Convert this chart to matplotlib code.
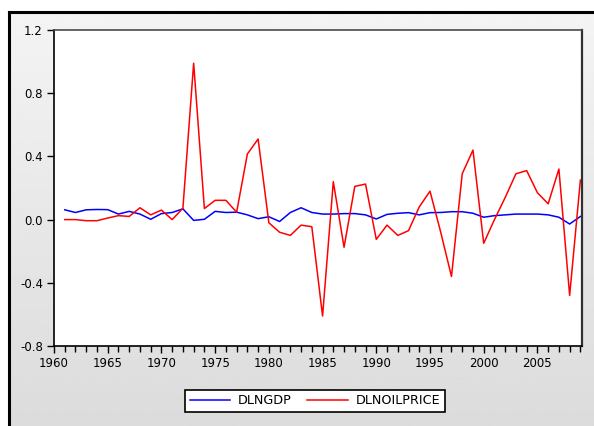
#!/usr/bin/env python3
# -*- coding: utf-8 -*-

import numpy as np
import matplotlib
matplotlib.use("Agg")
import matplotlib.pyplot as plt
from matplotlib.lines import Line2D
from matplotlib.ticker import MultipleLocator, FormatStrFormatter

# annual data 1961-2009
years = list(range(1961, 2010))

dlngdp = [0.062, 0.045, 0.062, 0.064, 0.063, 0.035, 0.052, 0.035, 0.002, 0.038,
          0.045, 0.068, -0.005, 0.002, 0.052, 0.045, 0.047, 0.030, 0.006, 0.018,
          -0.012, 0.045, 0.075, 0.045, 0.035, 0.035, 0.038, 0.038, 0.030, 0.004,
          0.033, 0.040, 0.044, 0.030, 0.044, 0.045, 0.050, 0.050, 0.040, 0.015,
          0.025, 0.030, 0.035, 0.035, 0.035, 0.030, 0.015, -0.028, 0.020]

dlnoilprice = [0.0, 0.0, -0.007, -0.007, 0.01, 0.025, 0.02, 0.075, 0.03, 0.06,
               0.0, 0.072, 0.99, 0.07, 0.122, 0.122, 0.047, 0.415, 0.51, -0.02,
               -0.08, -0.10, -0.035, -0.045, -0.61, 0.24, -0.175, 0.21, 0.225, -0.125,
               -0.035, -0.10, -0.07, 0.08, 0.18, -0.08, -0.36, 0.29, 0.44, -0.15,
               0.0, 0.14, 0.29, 0.31, 0.17, 0.10, 0.32, -0.48, 0.25]

series_names = ["DLNGDP", "DLNOILPRICE"]
yticks = [-0.8, -0.4, 0.0, 0.4, 0.8, 1.2]
xticks = list(range(1960, 2010, 5))

W, H = 594, 426
fig = plt.figure(figsize=(W / 100, H / 100), dpi=100)
fig.patch.set_facecolor("white")

# window background: light gray gradient with a black frame on top/left
bg = fig.add_axes([9 / W, 0, 1 - 9 / W, (H - 12) / H], zorder=-5)
grad = np.linspace(0.955, 0.86, 256).reshape(-1, 1)
bg.imshow(grad, cmap="gray", vmin=0, vmax=1, aspect="auto",
          extent=[0, 1, 0, 1], origin="upper")
bg.set_axis_off()
fig.add_artist(Line2D([9 / W, 9 / W], [0, (H - 12) / H], color="black", lw=2.2,
                      transform=fig.transFigure))
fig.add_artist(Line2D([9 / W, 1], [(H - 12) / H, (H - 12) / H], color="black", lw=2.2,
                      transform=fig.transFigure))

ax = fig.add_axes([54 / W, (H - 346) / H, 528 / W, 316 / H])
ax.set_facecolor("white")
ax.plot(years, dlngdp, color="#0000ff", lw=1.1, label=series_names[0])
ax.plot(years, dlnoilprice, color="#ff0000", lw=1.1, label=series_names[1])

ax.set_xlim(1960, 2009.15)
ax.set_ylim(-0.8, 1.2)
ax.set_yticks(yticks)
ax.yaxis.set_major_formatter(FormatStrFormatter("%.1f"))
ax.set_xticks(xticks)
ax.xaxis.set_minor_locator(MultipleLocator(1))
ax.tick_params(axis="both", which="major", direction="out", length=5, width=1,
               labelsize=8.5, color="black", pad=3)
ax.tick_params(axis="x", which="minor", direction="out", length=4, width=1)

for s in ["left", "bottom"]:
    ax.spines[s].set_color("black")
    ax.spines[s].set_linewidth(1.2)
ax.spines["top"].set_color("#4a4a4a")
ax.spines["top"].set_linewidth(1.2)
ax.spines["right"].set_color("#303030")
ax.spines["right"].set_linewidth(1.6)

leg = fig.legend(loc="center", bbox_to_anchor=(315 / W, (H - 401) / H), ncol=2,
                 fontsize=9.2, frameon=True, fancybox=False, edgecolor="black",
                 handlelength=3.2, columnspacing=1.2, borderpad=0.35,
                 handletextpad=0.6)
leg.get_frame().set_linewidth(1.2)
leg.get_frame().set_facecolor("white")
leg.get_frame().set_alpha(1)

fig.savefig("out.png", dpi=100)
